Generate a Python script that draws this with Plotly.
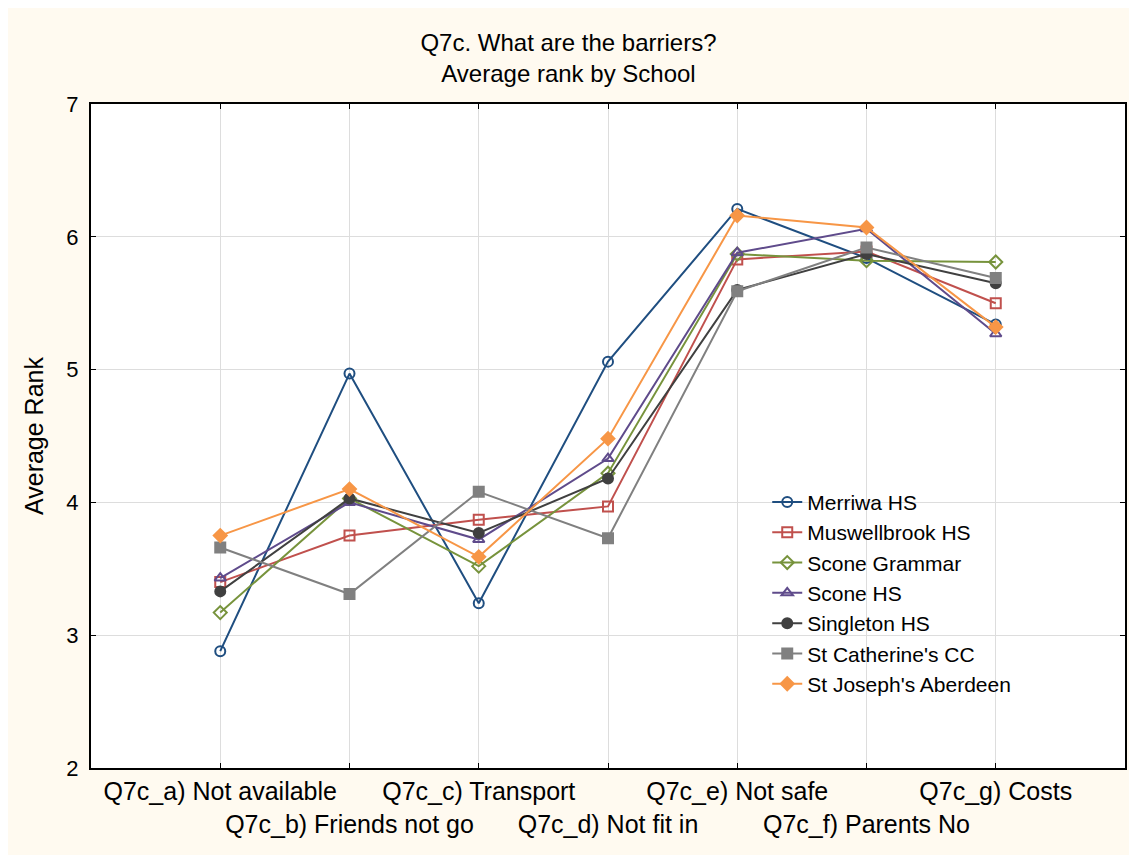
import plotly.graph_objects as go

# categories and tick labels
categories = ["Q7c_a) Not available", "Q7c_b) Friends not go", "Q7c_c) Transport",
              "Q7c_d) Not fit in", "Q7c_e) Not safe", "Q7c_f) Parents No", "Q7c_g) Costs"]
tick_labels = ["Q7c_a) Not available", "<br>Q7c_b) Friends not go", "Q7c_c) Transport",
               "<br>Q7c_d) Not fit in", "Q7c_e) Not safe", "<br>Q7c_f) Parents No", "Q7c_g) Costs"]
x_pos = [0, 1, 2, 3, 4, 5, 6]

# average rank per school
merriwa = [2.88, 4.97, 3.24, 5.06, 6.21, 5.84, 5.34]
muswellbrook = [3.40, 3.75, 3.87, 3.97, 5.83, 5.89, 5.50]
scone_grammar = [3.17, 4.03, 3.52, 4.22, 5.87, 5.82, 5.81]
scone_hs = [3.43, 4.00, 3.72, 4.33, 5.88, 6.06, 5.27]
singleton = [3.33, 4.03, 3.77, 4.18, 5.60, 5.87, 5.65]
st_catherines = [3.66, 3.31, 4.08, 3.73, 5.59, 5.92, 5.69]
st_josephs = [3.75, 4.10, 3.59, 4.48, 6.16, 6.07, 5.32]

series = [
    ("Merriwa HS", merriwa, "#1F4E80", "circle-open"),
    ("Muswellbrook HS", muswellbrook, "#C0504D", "square-open"),
    ("Scone Grammar", scone_grammar, "#77933C", "diamond-open"),
    ("Scone HS", scone_hs, "#5F4B8B", "triangle-up-open"),
    ("Singleton HS", singleton, "#404040", "circle"),
    ("St Catherine's CC", st_catherines, "#808080", "square"),
    ("St Joseph's Aberdeen", st_josephs, "#F79646", "diamond"),
]

fig = go.Figure()
for name, vals, color, symbol in series:
    fig.add_trace(go.Scatter(
        x=x_pos, y=vals, mode="lines+markers", name=name,
        line=dict(color=color, width=2),
        marker=dict(symbol=symbol, size=10, color=color, line=dict(color=color, width=2)),
    ))

# outer frame of the chart window
fig.add_shape(type="rect", xref="paper", yref="paper",
              x0=-0.0832, x1=1.06, y0=-0.18, y1=1.1476,
              line=dict(color="#888888", width=2), layer="below")

# page body adds an 8px offset, so margins are shifted to compensate
fig.update_layout(
    width=1137, height=855,
    margin=dict(l=83, r=20, t=96, b=95),
    paper_bgcolor="#FFFAF0",
    plot_bgcolor="white",
    font=dict(family="Liberation Sans, Arial, sans-serif", color="black"),
    title=dict(text="Q7c. What are the barriers?<br>Average rank by School",
               x=0.5 - 8 / 1137, xref="container", xanchor="center",
               y=1 - 43 / 855, yanchor="top",
               font=dict(size=24, color="black"), automargin=False),
    xaxis=dict(range=[-1, 7], tickvals=x_pos, ticktext=tick_labels, tickangle=0,
               automargin=False,
               showgrid=True, gridcolor="#DDDDDD", gridwidth=1,
               ticks="inside", ticklen=5, tickcolor="black",
               showline=True, linecolor="black", linewidth=2, mirror="allticks",
               tickfont=dict(size=25), zeroline=False),
    yaxis=dict(range=[2, 7], dtick=1, automargin=False,
               title=dict(text="Average Rank", font=dict(size=25), standoff=16),
               showgrid=True, gridcolor="#DDDDDD", gridwidth=1,
               ticks="inside", ticklen=5, tickcolor="black", ticklabelstandoff=6,
               showline=True, linecolor="black", linewidth=2, mirror="allticks",
               tickfont=dict(size=22), zeroline=False),
    legend=dict(x=0.654, y=0.431, xanchor="left", yanchor="top",
                bgcolor="rgba(0,0,0,0)", font=dict(size=21)),
)

fig.write_html("out.html")
